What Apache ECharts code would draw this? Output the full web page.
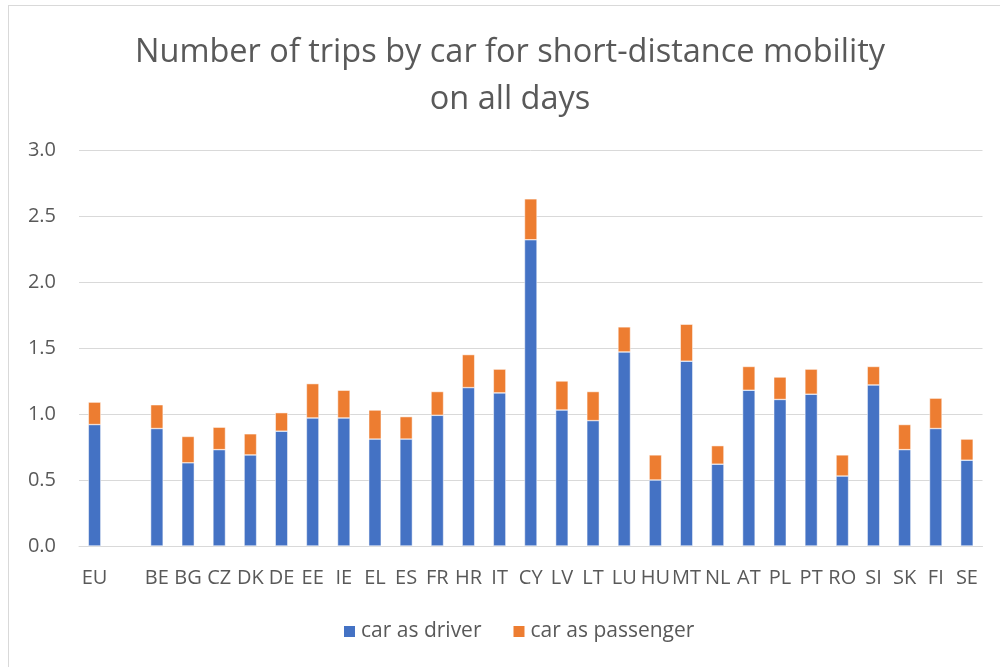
<!DOCTYPE html>
<html>
<head>
<meta charset="utf-8">
<script src="https://cdn.jsdelivr.net/npm/echarts@6/dist/echarts.min.js"></script>
<style>
  html, body { margin: 0; padding: 0; background: #fff; overflow: hidden; }
  #frame { position: absolute; left: 8px; top: 5px; width: 1100px; height: 800px; border: 1px solid #d9d9d9; }
  #chart { position: absolute; left: 0; top: 0; width: 1000px; height: 667px; }
</style>
</head>
<body>
<div id="frame"></div>
<div id="chart"></div>
<script>
// 国家代码（EU 后留一个空位）
const categories = ['EU', '', 'BE', 'BG', 'CZ', 'DK', 'DE', 'EE', 'IE', 'EL', 'ES', 'FR', 'HR', 'IT', 'CY',
  'LV', 'LT', 'LU', 'HU', 'MT', 'NL', 'AT', 'PL', 'PT', 'RO', 'SI', 'SK', 'FI', 'SE']

const carAsDriver = [0.92, null, 0.89, 0.63, 0.73, 0.69, 0.87, 0.97, 0.97, 0.81, 0.81, 0.99, 1.20, 1.16, 2.32,
  1.03, 0.95, 1.47, 0.50, 1.40, 0.62, 1.18, 1.11, 1.15, 0.53, 1.22, 0.73, 0.89, 0.65]

const carAsPassenger = [0.17, null, 0.18, 0.20, 0.17, 0.16, 0.14, 0.26, 0.21, 0.22, 0.17, 0.18, 0.25, 0.18, 0.31,
  0.22, 0.22, 0.19, 0.19, 0.28, 0.14, 0.18, 0.17, 0.19, 0.16, 0.14, 0.19, 0.23, 0.16]

const yTicks = { min: 0, max: 3, interval: 0.5 }

const font = '"Open Sans", "Liberation Sans", sans-serif'
const textColor = '#595959'

const chart = echarts.init(document.getElementById('chart'))

chart.setOption({
  animation: false,
  title: {
    text: 'Number of trips by car for short-distance mobility\non all days',
    left: 505,
    top: 24,
    textAlign: 'center',
    textStyle: { fontFamily: font, fontSize: 32.5, fontWeight: 'normal', color: textColor, lineHeight: 47 }
  },
  legend: {
    bottom: 20,
    left: 337,
    itemWidth: 13,
    itemHeight: 13,
    itemGap: 30,
    icon: 'rect',
    textStyle: { fontFamily: font, fontSize: 21, color: textColor }
  },
  grid: { left: 79, right: 17.5, top: 150, bottom: 121, containLabel: false },
  xAxis: {
    type: 'category',
    data: categories,
    axisTick: { show: false },
    axisLine: { lineStyle: { color: '#d9d9d9', width: 1 } },
    axisLabel: { interval: 0, fontFamily: font, fontSize: 20, color: textColor, margin: 22 }
  },
  yAxis: {
    type: 'value',
    min: yTicks.min,
    max: yTicks.max,
    interval: yTicks.interval,
    axisLine: { show: false },
    axisTick: { show: false },
    splitLine: { lineStyle: { color: '#d9d9d9', width: 1 } },
    axisLabel: { fontFamily: font, fontSize: 20, color: textColor, margin: 23, formatter: v => v.toFixed(1) }
  },
  series: [
    {
      name: 'car as driver',
      type: 'bar',
      stack: 'car',
      barWidth: 12.5,
      data: carAsDriver,
      itemStyle: { color: '#4472c4', borderColor: '#ffffff', borderWidth: 0.5 }
    },
    {
      name: 'car as passenger',
      type: 'bar',
      stack: 'car',
      barWidth: 12.5,
      data: carAsPassenger,
      itemStyle: { color: '#ed7d31', borderColor: '#ffffff', borderWidth: 0.5 }
    }
  ]
})
</script>
</body>
</html>
